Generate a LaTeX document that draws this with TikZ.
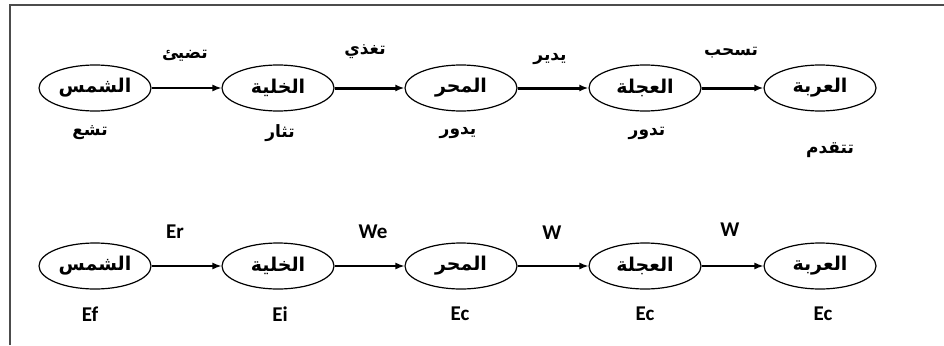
\documentclass[tikz,border=0pt]{standalone}
\usepackage{fontspec}
\TeXXeTstate=1
\newfontfamily\arabicfont[Script=Arabic]{DejaVu Sans}
\newfontfamily\latinfont{Carlito}
\usetikzlibrary{shapes.geometric,arrows.meta}
\newcommand{\ar}[1]{\arabicfont\bfseries\beginR #1\endR}
\begin{document}
\begin{tikzpicture}[x=1pt,y=-1pt,
organ/.style={
	ellipse,minimum width=112pt,minimum height=46pt,inner sep=0pt,
	draw=black,line width=1.2pt,
	font=\fontsize{19}{21}\selectfont},
arlabel/.style={font=\fontsize{17}{19}\selectfont},
enlabel/.style={font=\latinfont\bfseries\fontsize{21}{23}\selectfont},
flow/.style={-{Latex[length=9pt,width=7pt]},line width=1.4pt},
bigflow/.style={-{Latex[length=9pt,width=7pt]},line width=3pt}
]
\useasboundingbox (0,0) rectangle (944,345);
% frame
\draw[line width=1.4pt,black!70] (10,345) -- (10,5) -- (944,5);

% top row: actions
\node[organ] (sun) at (95,88) {\ar{الشمس}};
\node[organ] (cell) at (278,88) {\ar{الخلية}};
\node[organ] (motor) at (461,88) {\ar{المحر}};
\node[organ] (wheel) at (645,88) {\ar{العجلة}};
\node[organ] (cart) at (820,88) {\ar{العربة}};
\draw[flow] (sun) -- (cell);
\draw[bigflow] (cell) -- (motor);
\draw[bigflow] (motor) -- (wheel);
\draw[bigflow] (wheel) -- (cart);
\node[arlabel] (lit) at (185,56) {\ar{تضيئ}};
\node[arlabel] (feeds) at (365,52) {\ar{تغذي}};
\node[arlabel] (turns) at (550,59) {\ar{يدير}};
\node[arlabel] (pulls) at (731,53) {\ar{تسحب}};
\node[arlabel] (shine) at (90,133) {\ar{تشع}};
\node[arlabel] (excite) at (280,133) {\ar{تثار}};
\node[arlabel] (spin) at (458,133) {\ar{يدور}};
\node[arlabel] (roll) at (647,133) {\ar{تدور}};
\node[arlabel] (move) at (830,150) {\ar{تتقدم}};

% bottom row: energies
\node[organ] (sunE) at (95,266) {\ar{الشمس}};
\node[organ] (cellE) at (278,266) {\ar{الخلية}};
\node[organ] (motorE) at (461,266) {\ar{المحر}};
\node[organ] (wheelE) at (645,266) {\ar{العجلة}};
\node[organ] (cartE) at (820,266) {\ar{العربة}};
\draw[flow] (sunE) -- (cellE);
\draw[flow] (cellE) -- (motorE);
\draw[flow] (motorE) -- (wheelE);
\draw[flow] (wheelE) -- (cartE);
\node[enlabel] (er) at (175,232) {Er};
\node[enlabel] (we) at (373,232) {We};
\node[enlabel] (w1) at (552,233) {W};
\node[enlabel] (w2) at (730,230) {W};
\node[enlabel] (ef) at (90,314) {Ef};
\node[enlabel] (ei) at (280,314) {Ei};
\node[enlabel] (ec1) at (460,314) {Ec};
\node[enlabel] (ec2) at (645,314) {Ec};
\node[enlabel] (ec3) at (823,314) {Ec};

\end{tikzpicture}
\end{document}
